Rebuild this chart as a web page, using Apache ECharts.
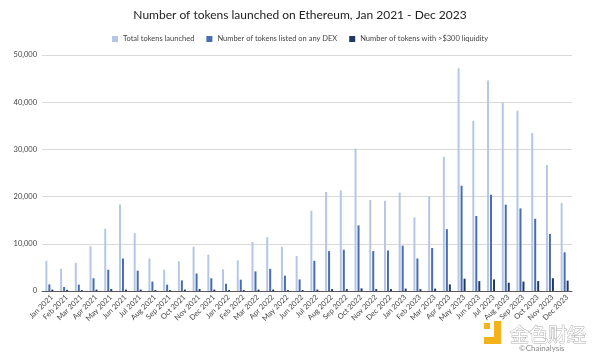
<!DOCTYPE html>
<html><head><meta charset="utf-8">
<script src="https://cdn.jsdelivr.net/npm/echarts@6/dist/echarts.min.js"></script>
<style>html,body{margin:0;padding:0;background:#fff}#c{width:600px;height:357px}</style>
</head><body><div id="c"></div>
<script>
const categories = ["Jan 2021","Feb 2021","Mar 2021","Apr 2021","May 2021","Jun 2021","Jul 2021","Aug 2021","Sep 2021","Oct 2021","Nov 2021","Dec 2021",
"Jan 2022","Feb 2022","Mar 2022","Apr 2022","May 2022","Jun 2022","Jul 2022","Aug 2022","Sep 2022","Oct 2022","Nov 2022","Dec 2022",
"Jan 2023","Feb 2023","Mar 2023","Apr 2023","May 2023","Jun 2023","Jul 2023","Aug 2023","Sep 2023","Oct 2023","Nov 2023","Dec 2023"];
const totalLaunched = [6400,4700,6000,9500,13200,18300,12250,6900,4500,6300,9400,7700,
4600,6500,10400,11400,9350,7400,17000,21000,21300,30200,19300,19100,
20850,15600,20000,28450,47200,36050,44600,40000,38200,33450,26700,18650];
const listedOnDex = [1400,850,1350,2700,4500,6900,4300,2000,1350,2250,3700,2700,
1550,2400,4150,4700,3250,2450,6400,8450,8750,13900,8450,8600,
9600,6900,9100,13100,22300,15900,20400,18300,17500,15300,12100,8200];
const over300Liquidity = [300,250,200,300,400,300,300,200,200,300,400,300,
200,200,300,300,200,200,300,400,400,550,400,400,
500,400,500,1400,2600,2100,2450,1750,2000,2100,2700,2200];
const seriesNames = ["Total tokens launched","Number of tokens listed on any DEX","Number of tokens with >$300 liquidity"];
const yTicks = [0,10000,20000,30000,40000,50000];

const chart = echarts.init(document.getElementById('c'), null, {renderer:'canvas'});
const font = 'Lato, "Noto Sans", sans-serif';
const colors = ['#b4c7e7','#4a6cb0','#1f3864'];
chart.setOption({
  animation:false,
  textStyle:{fontFamily:font},
  title:{text:"Number of tokens launched on Ethereum, Jan 2021 - Dec 2023",left:'center',top:4,
    textStyle:{fontSize:12,fontWeight:'normal',color:'#222',fontFamily:font}},
  legend:{top:30,left:'center',itemWidth:6,itemHeight:6,itemGap:12,icon:'rect',
    textStyle:{fontSize:7.5,color:'#444',fontFamily:font},data:seriesNames},
  grid:{left:42,right:28,top:55,bottom:66,outerBoundsMode:'none'},
  xAxis:{type:'category',data:categories,
    axisLine:{lineStyle:{color:'#595959',width:1}},axisTick:{show:false},
    axisLabel:{show:false}},
  yAxis:{type:'value',min:yTicks[0],max:yTicks[yTicks.length-1],interval:10000,
    axisLine:{show:false},axisTick:{show:false},
    splitLine:{lineStyle:{color:'#d9d9d9',width:1}},
    axisLabel:{fontSize:7.5,color:'#444',margin:5,fontFamily:font,
      formatter:v=>v.toLocaleString('en-US')}},
  series:[
    {name:seriesNames[0],type:'bar',data:totalLaunched,barWidth:2,barGap:'50%',itemStyle:{color:colors[0]}},
    {name:seriesNames[1],type:'bar',data:listedOnDex,barWidth:2,barGap:'50%',itemStyle:{color:colors[1]}},
    {name:seriesNames[2],type:'bar',data:over300Liquidity,barWidth:2,barGap:'50%',itemStyle:{color:colors[2]}}
  ]
});
// rotated category labels placed through the axis scale
const baseY = chart.convertToPixel({yAxisIndex:0}, 0);
const labelGraphics = categories.map((c,i)=>{
  const x = chart.convertToPixel({xAxisIndex:0}, c);
  return {type:'text', x:x+2.5, y:baseY+5, rotation:Math.PI/4,
    style:{text:c, font:'7.5px '+font, fill:'#444', align:'right', verticalAlign:'middle'}};
});
chart.setOption({graphic:labelGraphics.concat([
  {type:'rect',shape:{x:484,y:323,width:6,height:6},style:{fill:'#f5b31b'}},
  {type:'rect',shape:{x:494,y:321,width:7,height:23},style:{fill:'#f5b31b'}},
  {type:'rect',shape:{x:484,y:337,width:17,height:7},style:{fill:'#f5b31b'}},
  {type:'text',x:510,y:325,style:{text:'金色财经',font:'19px "Noto Sans CJK SC"',fill:'#fff',stroke:'#b0b0b0',lineWidth:1}},
  {type:'text',x:519,y:344,style:{text:'©Chainalysis',font:'8px '+font,fill:'#8a8a8a'}}
])});
</script></body></html>
